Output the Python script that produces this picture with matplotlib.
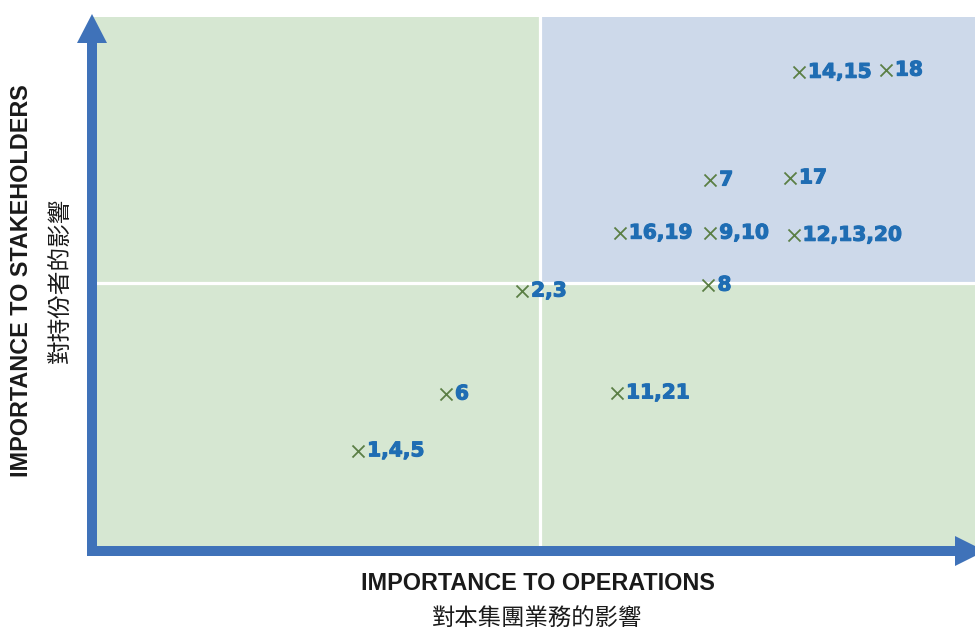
import matplotlib
matplotlib.use("Agg")
import matplotlib.pyplot as plt
from matplotlib.patches import Polygon, Rectangle
import matplotlib.patheffects as pe

# ---- data ----
labels = ["1,4,5", "6", "2,3", "11,21", "8", "16,19", "9,10", "12,13,20", "7", "17", "14,15", "18"]
operations = [2.97, 3.95, 4.80, 5.86, 6.88, 5.89, 6.90, 7.83, 6.90, 7.79, 7.89, 8.86]
stakeholders = [1.83, 2.90, 4.84, 2.92, 4.95, 5.93, 5.93, 5.89, 6.93, 6.97, 8.96, 9.00]
x_title = "IMPORTANCE TO OPERATIONS"
x_title_zh = "對本集團業務的影響"
y_title = "IMPORTANCE TO STAKEHOLDERS"
y_title_zh = "對持份者的影響"

W, H = 975, 628
fig = plt.figure(figsize=(W / 100, H / 100), dpi=100)

def px_axes(l, t, r, b):
    return [l / W, 1 - b / H, (r - l) / W, (b - t) / H]

ax = fig.add_axes(px_axes(92, 17, 975, 548))
XMAX = 10 * (975 - 92) / (988 - 92)
ax.set_xlim(0, XMAX)
ax.set_ylim(0, 10)
ax.axis("off")

green = "#d6e7d2"
blue = "#cdd9ea"
ax.add_patch(Rectangle((0, 0), XMAX, 10, facecolor=green, edgecolor="none", zorder=0))
ax.add_patch(Rectangle((5, 5), XMAX - 5, 5, facecolor=blue, edgecolor="none", zorder=0))
ax.axvline(5, color="white", lw=2.3, zorder=1)
ax.axhline(5, color="white", lw=2.3, zorder=1)

lab_color = "#1f6db3"
ax.scatter(operations, stakeholders, marker="x", s=75, color="#5b7f45", linewidths=1.3, zorder=3)
for x, y, lab in zip(operations, stakeholders, labels):
    ax.annotate(lab, (x, y), xytext=(6.5, 0), textcoords="offset points", ha="left", va="center",
                fontsize=14.5, fontweight="bold", color=lab_color, family="DejaVu Sans", zorder=4,
                path_effects=[pe.withStroke(linewidth=0.8, foreground=lab_color)])

# ---- arrows (in pixel coordinates) ----
def pxpoly(pts, color):
    xy = [(px / W, 1 - py / H) for px, py in pts]
    fig.add_artist(Polygon(xy, closed=True, transform=fig.transFigure, facecolor=color,
                           edgecolor="none", zorder=10))

arrow_c = "#3f72b9"
# vertical arrow
pxpoly([(87, 556), (97, 556), (97, 43), (107, 43), (92, 14), (77, 43), (87, 43)], arrow_c)
# horizontal arrow
pxpoly([(87, 546), (955, 546), (955, 536), (985, 551), (955, 566), (955, 556), (87, 556)], arrow_c)

# ---- titles ----
fig.text(538 / W, 1 - 584 / H, x_title, ha="center", va="center", fontsize=16.8,
         fontweight="bold", family="Liberation Sans", color="#1a1a1a")
fig.text(537 / W, 1 - 618 / H, x_title_zh, ha="center", va="center", fontsize=16.8,
         family=["Noto Sans CJK TC", "DejaVu Sans"], color="#1a1a1a")
fig.text(22 / W, 1 - 281 / H, y_title, ha="center", va="center", rotation=90, fontsize=16.8,
         fontweight="bold", family="Liberation Sans", color="#1a1a1a")
fig.text(60 / W, 1 - 280 / H, y_title_zh, ha="center", va="center", rotation=90, fontsize=17,
         family=["Noto Sans CJK TC", "DejaVu Sans"], color="#1a1a1a")

fig.savefig("out.png", dpi=100)
